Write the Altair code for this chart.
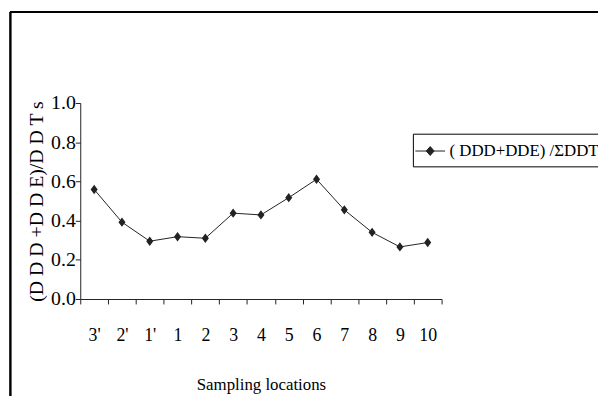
import altair as alt
import pandas as pd

locations = ["3'", "2'", "1'", "1", "2", "3", "4", "5", "6", "7", "8", "9", "10"]
ratios = [0.559, 0.392, 0.295, 0.318, 0.310, 0.438, 0.429, 0.517, 0.611, 0.455, 0.340, 0.266, 0.288]
series_name = "( DDD+DDE) /ΣDDT"
y_ticks = [0.0, 0.2, 0.4, 0.6, 0.8, 1.0]

df = pd.DataFrame({"loc": locations, "ratio": ratios, "series": [series_name] * len(locations)})

FONT = "Liberation Serif"
INK = "#222222"
W, H = 365, 198

diamond = "M0,-1L0.75,0L0,1L-0.75,0Z"
legend_sym = "M-1.5,0L1.5,0M0,-0.45L0.4,0L0,0.45L-0.4,0Z"

x_enc = alt.X("loc:N", sort=locations, title="Sampling locations",
              scale=alt.Scale(type="band", paddingInner=0, paddingOuter=0),
              axis=alt.Axis(tickBand="extent", labelAngle=0, tickSize=5, labelPadding=23,
                            titlePadding=32, labelFontSize=18, titleFontSize=17))
y_enc = alt.Y("ratio:Q", title="(D D D +D D E)/D D T s",
              scale=alt.Scale(domain=[0, 1], nice=False, zero=True),
              axis=alt.Axis(values=y_ticks, format=".1f", tickSize=5, labelPadding=0,
                            titlePadding=4, labelFontSize=20, titleFontSize=20))

line = alt.Chart(df).mark_line(strokeWidth=1).encode(
    x=x_enc, y=y_enc,
    color=alt.Color("series:N", scale=alt.Scale(range=[INK]),
                    legend=alt.Legend(title=None, orient="none", legendX=336, legendY=31,
                                      symbolType=legend_sym, symbolSize=400,
                                      symbolFillColor=INK, symbolStrokeColor=INK,
                                      symbolStrokeWidth=1, labelFontSize=17, labelFont=FONT,
                                      labelLimit=0, labelOffset=9, padding=7,
                                      strokeColor="black", fillColor="white"))
)
points = alt.Chart(df).mark_point(shape=diamond, size=90, filled=True, opacity=1, color=INK).encode(
    x=x_enc, y=y_enc
)

frame_top = alt.Chart(df).mark_rule(color="black", strokeWidth=1.2).encode(
    x=alt.value(-71), x2=alt.value(540), y=alt.value(-92))
frame_left = alt.Chart(df).mark_rule(color="black", strokeWidth=1.2).encode(
    x=alt.value(-70.5), y=alt.value(-92), y2=alt.value(320))

chart = alt.layer(frame_top, frame_left, line, points).properties(
    width=W, height=H,
    autosize=alt.AutoSizeParams(type="none"),
    padding={"left": 73, "top": 94, "right": 596 - 73 - W, "bottom": 388 - 94 - H},
).configure_view(stroke=None).configure_axis(
    labelFont=FONT, titleFont=FONT, labelColor="black", titleColor="black",
    domainColor=INK, tickColor=INK, grid=False, titleFontWeight="normal"
).configure_legend(labelFont=FONT, labelColor="black")

chart.save("out.html", embed_options={"renderer": "svg", "actions": False})
